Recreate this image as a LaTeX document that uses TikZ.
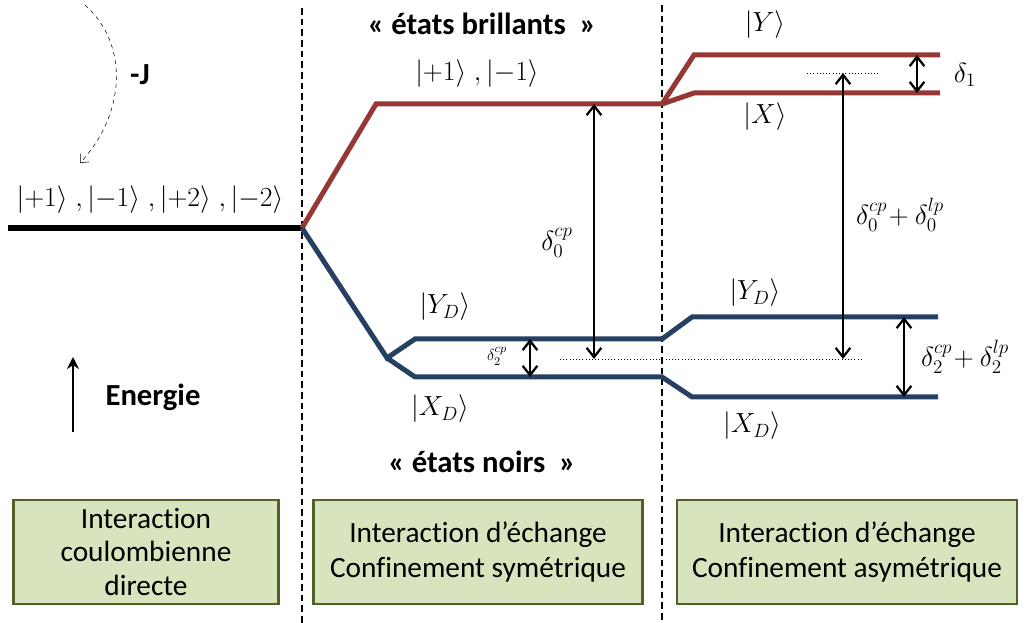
\documentclass[tikz,border=0pt]{standalone}
\usepackage{amsmath,amssymb}
\usepackage{fontspec}
\newfontfamily\calibri[Ligatures=NoCommon]{Carlito}
\usetikzlibrary{arrows.meta,positioning}
\definecolor{brillant}{RGB}{150,55,53}
\definecolor{noir}{RGB}{38,64,98}
\definecolor{boxfill}{RGB}{215,228,189}
\definecolor{boxdraw}{RGB}{79,98,40}
\begin{document}
\begin{tikzpicture}[x=0.75pt,y=-0.75pt,>={Straight Barb[length=7pt,width=11pt]},
  level/.style={line width=3.75pt},
  gap/.style={<->,line width=1.7pt},
  ket/.style={font=\fontsize{21}{25}\selectfont},
  titre/.style={font=\calibri\bfseries\fontsize{23}{27}\selectfont},
  cadre/.style={draw=boxdraw,line width=2pt,fill=boxfill,align=center,
    minimum height=78pt,font=\calibri\fontsize{22}{26}\selectfont},
  sep/.style={line width=1.6pt,dash pattern=on 5pt off 3pt}]
  \useasboundingbox (0,0) rectangle (1025,623);

  % separations
  \coordinate (s1h) at (302,8);   \coordinate (s1b) at (302,623);
  \coordinate (s2h) at (662,5);   \coordinate (s2b) at (662,623);
  \draw[sep] (s1h) -- (s1b);
  \draw[sep] (s2h) -- (s2b);

  % niveaux
  \coordinate (d0) at (8,228);
  \coordinate (o) at (302,228);
  \coordinate (r1) at (376,104);  \coordinate (r2) at (662,104);
  \coordinate (y1) at (694,55);   \coordinate (y2) at (940,55);
  \coordinate (x1) at (694,93);   \coordinate (x2) at (940,93);
  \coordinate (b0) at (387,358);
  \coordinate (yd1) at (415,339); \coordinate (yd2) at (662,339);
  \coordinate (xd1) at (415,377); \coordinate (xd2) at (662,377);
  \coordinate (yd3) at (692,317); \coordinate (yd4) at (938,317);
  \coordinate (xd3) at (692,397); \coordinate (xd4) at (938,397);

  \draw[level,line width=4.5pt] (d0) -- (o);
  \draw[level,brillant] (o) -- (r1) -- (r2) -- (y1) -- (y2);
  \draw[level,brillant] (r2) -- (x1) -- (x2);
  \draw[level,noir] (o) -- (b0) -- (yd1) -- (yd2) -- (yd3) -- (yd4);
  \draw[level,noir] (b0) -- (xd1) -- (xd2) -- (xd3) -- (xd4);

  % ecarts
  \coordinate (mil) at (560,359); \coordinate (milr) at (862,359);
  \coordinate (miy) at (807,73);  \coordinate (miyr) at (880,73);
  \draw[dotted,thin] (mil) -- (milr);
  \draw[dotted,thin] (miy) -- (miyr);
  \coordinate (a0h) at (594,104); \coordinate (a0b) at (594,359);
  \coordinate (a1h) at (843,73);  \coordinate (a1b) at (843,359);
  \coordinate (a2h) at (530,339); \coordinate (a2b) at (530,377);
  \coordinate (a3h) at (917,55);  \coordinate (a3b) at (917,93);
  \coordinate (a4h) at (904,317); \coordinate (a4b) at (904,397);
  \draw[gap] (a0h) -- (a0b);
  \draw[gap] (a1h) -- (a1b);
  \draw[gap] (a2h) -- (a2b);
  \draw[gap] (a3h) -- (a3b);
  \draw[gap] (a4h) -- (a4b);

  % etiquettes
  \node[ket] (k0) at (150,200) {$\lvert{+1}\rangle\;,\lvert{-1}\rangle\;,\lvert{+2}\rangle\;,\lvert{-2}\rangle$};
  \node[ket] (k1) at (477,74) {$\lvert{+1}\rangle\;,\lvert{-1}\rangle$};
  \node[ket] (kyd) at (445,307) {$\lvert Y_D\rangle$};
  \node[ket] (kxd) at (440,409) {$\lvert X_D\rangle$};
  \node[ket] (ky) at (765,25) {$\lvert Y\rangle$};
  \node[ket] (kx) at (765,117) {$\lvert X\rangle$};
  \node[ket] (kyd2) at (755,293) {$\lvert Y_D\rangle$};
  \node[ket] (kxd2) at (752,426) {$\lvert X_D\rangle$};
  \node[ket] (e0) at (557,243) {$\delta_0^{cp}$};
  \node[font=\fontsize{13}{15}\selectfont] (e2) at (497,356) {$\delta_2^{cp}$};
  \node[ket] (e1) at (965,75) {$\delta_1$};
  \node[ket] (e01) at (900,215) {$\delta_0^{cp}\!+\delta_0^{lp}$};
  \node[ket] (e21) at (965,357) {$\delta_2^{cp}\!+\delta_2^{lp}$};

  \node[titre] (brill) at (482,24) {« états brillants~ »};
  \node[titre] (noirs) at (482,462) {« états noirs~ »};

  % echange et energie
  \node[titre] (J) at (140,75) {-J};
  \coordinate (jh) at (85,5);
  \coordinate (jb) at (80,163);
  \draw[->,thin,dashed,>={Straight Barb[length=5pt,width=9pt]}] (jh) .. controls (130,45) and (125,115) .. (jb);
  \coordinate (eb) at (73,432);
  \coordinate (eh) at (73,357);
  \draw[->,line width=1.7pt,>={Stealth[length=9pt,width=9pt]}] (eb) -- (eh);
  \node[titre] (en) at (153,397) {Energie};

  % cadres
  \node[cadre,minimum width=199pt,font=\calibri\fontsize{22}{25}\selectfont] (c1) at (146,552) {Interaction\\coulombienne\\directe};
  \node[cadre,minimum width=247pt] (c2) at (478,552) {Interaction d’échange\\Confinement symétrique};
  \node[cadre,minimum width=255pt] (c3) at (847,552) {Interaction d’échange\\Confinement asymétrique};
\end{tikzpicture}
\end{document}
